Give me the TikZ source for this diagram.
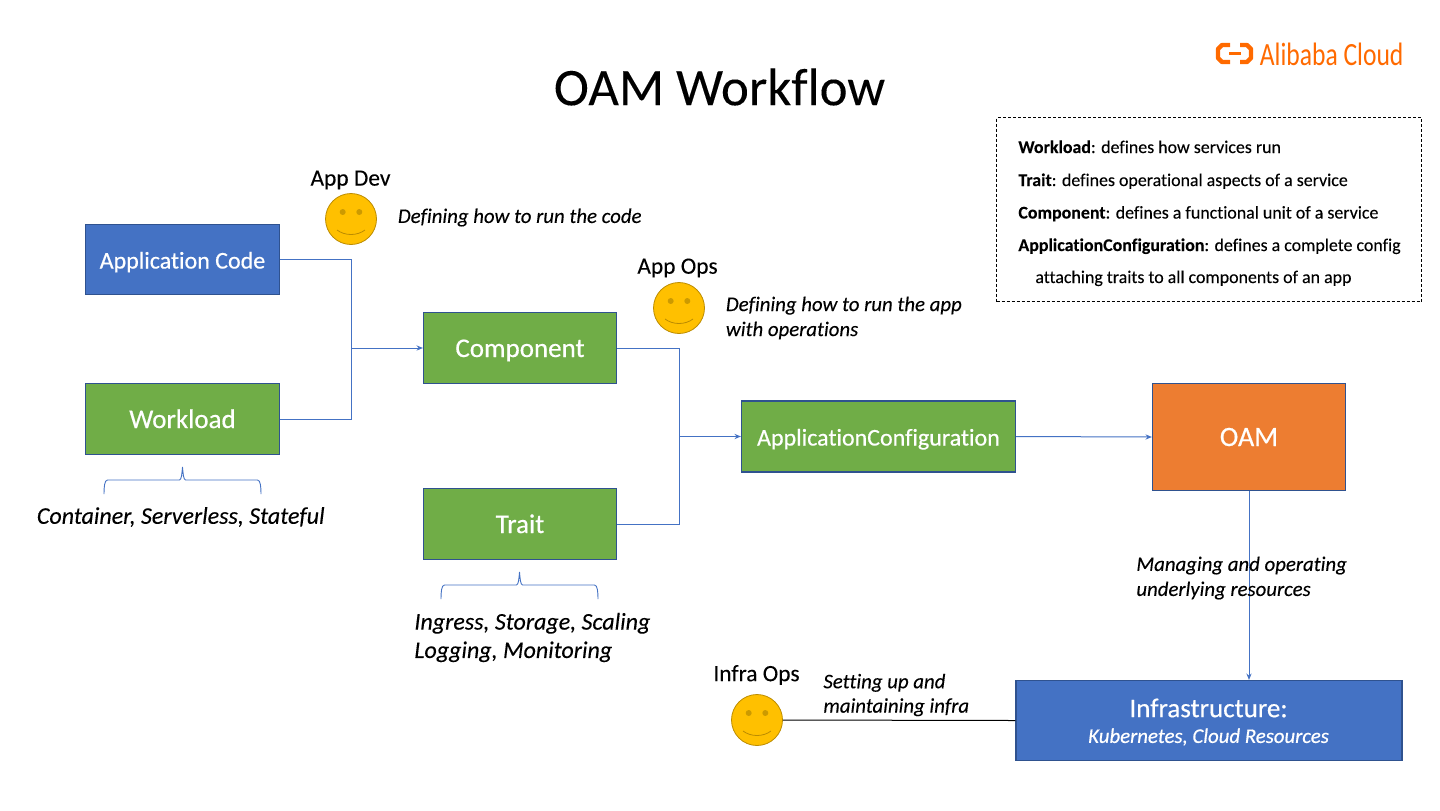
\documentclass[tikz,border=0pt]{standalone}
\usepackage{fontspec}
\setmainfont{Carlito}[RawFeature=-liga,FakeBold=0.12,BoldFont={Carlito Bold}]
\newfontfamily\boxfont{Carlito}[RawFeature=-liga,FakeBold=0.45]
\newfontfamily\boxitalic{Carlito Italic}[RawFeature=-liga,FakeBold=0.6]
\newfontfamily\logofont{Carlito}[RawFeature=-liga]
\usetikzlibrary{arrows.meta,calc}
\definecolor{bluefill}{HTML}{4472C4}
\definecolor{greenfill}{HTML}{70AD47}
\definecolor{orangefill}{HTML}{ED7D31}
\definecolor{edgeblue}{HTML}{2F528F}
\definecolor{linkblue}{HTML}{4472C4}
\definecolor{smile}{HTML}{FFC000}
\definecolor{smileedge}{HTML}{BC8C00}
\definecolor{smiledark}{HTML}{CC9A00}
\definecolor{logoorange}{HTML}{FF6A00}
\newcommand{\fs}[1]{\fontsize{#1}{#1}\selectfont}
\tikzset{
  x=0.5pt,y=-0.5pt,
  boxnode/.style={draw=edgeblue,line width=0.6pt,minimum width=#1*0.5pt,inner sep=0pt,text=white,align=center,text height=9pt,text depth=0pt},
  bluebox/.style={boxnode=#1,fill=bluefill},
  greenbox/.style={boxnode=#1,fill=greenfill},
  orangebox/.style={boxnode=#1,fill=orangefill},
  link/.style={draw=linkblue,line width=0.5pt},
  arrowlink/.style={link,-{Stealth[length=3.2pt,width=2.6pt]}},
  note/.style={font=\itshape\fs{10.4},align=left,anchor=west,inner sep=0pt},
  rolelabel/.style={font=\fs{11.7},inner sep=0pt},
  bracepath/.style={draw=linkblue,line width=0.45pt},
  legendline/.style={font=\fs{8.95},anchor=base west,inner sep=0pt},
}
\newcommand{\smiley}[2]{% name, centre
  \node[circle,draw=smileedge,line width=0.4pt,fill=smile,minimum size=25.5pt,inner sep=0pt] (#1) at (#2) {};
  \fill[smiledark] ($(#1)+(-8.3,-7)$) circle (1.5pt) ($(#1)+(8.3,-7)$) circle (1.5pt);
  \draw[smileedge,line width=0.4pt] ($(#1)+(-14,11)$) .. controls ($(#1)+(-6,17)$) and ($(#1)+(6,17)$) .. ($(#1)+(14,11)$);
}
\newcommand{\curlybrace}[2]{% tip coordinate name, tip
  \coordinate (#1) at (#2);
  \draw[bracepath] ($(#1)+(-78.5,27)$) .. controls ($(#1)+(-78.5,20)$) and ($(#1)+(-78,13)$) .. ($(#1)+(-75,13)$)
     -- ($(#1)+(-3,13)$) .. controls ($(#1)+(-1,13)$) and ($(#1)+(-0.5,6)$) .. (#1)
     .. controls ($(#1)+(0.5,6)$) and ($(#1)+(1,13)$) .. ($(#1)+(3,13)$)
     -- ($(#1)+(75,13)$) .. controls ($(#1)+(78,13)$) and ($(#1)+(78.5,20)$) .. ($(#1)+(78.5,27)$);
}
\begin{document}
\begin{tikzpicture}
\useasboundingbox (0,0) rectangle (1440,810);
\fill[white] (0,0) rectangle (1440,810);

\node[font=\fs{26.45},inner sep=0pt] (title) at (719.5,87) {OAM Workflow};

% logo
\begin{scope}[draw=logoorange,line width=2.2pt,line join=round]
  \draw (1230,45) -- (1222,45) -- (1218,49) -- (1218,58) -- (1222,62) -- (1230,62);
  \draw (1240,45) -- (1247,45) -- (1251,49) -- (1251,58) -- (1247,62) -- (1240,62);
  \draw[line width=1.2pt] (1229,53.5) -- (1241,53.5);
\end{scope}
\node[font=\logofont\fs{16.2},text=logoorange,inner sep=0pt,anchor=west,xscale=0.79] (logo) at (1259.5,54) {Alibaba Cloud};

% legend
\node[draw=black,dashed,line width=0.4pt,minimum width=212.5pt,minimum height=92pt,inner sep=0pt,dash pattern=on 1.5pt off 1pt] (legend) at (1209,209.5) {};
\node[legendline] (l1) at (1018,153) {\textbf{Workload}: defines how services run};
\node[legendline] (l2) at (1018,186) {\textbf{Trait}: defines operational aspects of a service};
\node[legendline] (l3) at (1018,218.5) {\textbf{Component}: defines a functional unit of a service};
\node[legendline] (l4) at (1018,251) {\textbf{ApplicationConfiguration}: defines a complete config};
\node[legendline] (l5) at (1035,283) {attaching traits to all components of an app};

% boxes
\node[bluebox=194,minimum height=35pt,font=\boxfont\fs{12}] (code) at (182.5,259.5) {Application Code};
\node[greenbox=194,minimum height=35.5pt,font=\boxfont\fs{13.5}] (workload) at (182.5,419) {Workload};
\node[greenbox=193,minimum height=35.5pt,font=\boxfont\fs{13.5}] (component) at (520,348) {Component};
\node[greenbox=193,minimum height=35.5pt,font=\boxfont\fs{13.5}] (trait) at (520,524) {Trait};
\node[greenbox=274,minimum height=35.5pt,font=\boxfont\fs{12}] (appconf) at (878.5,436.5) {ApplicationConfiguration};
\node[orangebox=193,minimum height=53.5pt,font=\boxfont\fs{14}] (oam) at (1249,437) {OAM};
\node[bluebox=386,minimum height=40pt] (infra) at (1209,720.5) {};
\node[inner sep=0pt,text=white,font=\boxfont\fs{13.5}] (infratitle) at (1208.5,708) {Infrastructure:};
\node[inner sep=0pt,text=white,font=\boxitalic\fs{10.4}] (infrasub) at (1208.5,737) {Kubernetes, Cloud Resources};

% connectors
\coordinate (j1) at (351,348);
\coordinate (j2) at (679,436.5);
\draw[link] (code.east) -| (j1);
\draw[link] (workload.east) -| (j1);
\draw[arrowlink] (j1) -- (component.west);
\draw[link] (component.east) -| (j2);
\draw[link] (trait.east) -| (j2);
\draw[arrowlink] (j2) -- (appconf.west);
\draw[arrowlink] (appconf.east) -- (oam.west);
\draw[arrowlink] (oam.south) -- (oam.south |- infra.north);

% braces
\curlybrace{b1}{182.5,467}
\curlybrace{b2}{519.5,572}

% smileys
\smiley{devface}{351,219}
\smiley{opsface}{679,308}
\smiley{infraface}{757,720}
\draw[draw=black,line width=0.5pt] (infraface.east) -- (infra.west);

% labels
\node[rolelabel] (devl) at (350.5,180) {App Dev};
\node[rolelabel] (opsl) at (677.5,268) {App Ops};
\node[rolelabel] (infral) at (756.5,675) {Infra Ops};
\node[note] (n1) at (397.5,217.5) {Defining how to run the code};
\node[note] (n2) at (725.5,318) {Defining how to run the app\\[2.1pt]with operations};
\node[note,font=\itshape\fs{12}] (n3) at (36.5,517) {Container, Serverless, Stateful};
\node[note,font=\itshape\fs{12}] (n4) at (414,637.5) {Ingress, Storage, Scaling\\[2.2pt]Logging, Monitoring};
\node[note] (n5) at (1136,578) {Managing and operating\\[2.1pt]underlying resources};
\node[note] (n6) at (823,695) {Setting up and\\[1.8pt]maintaining infra};
\end{tikzpicture}
\end{document}
